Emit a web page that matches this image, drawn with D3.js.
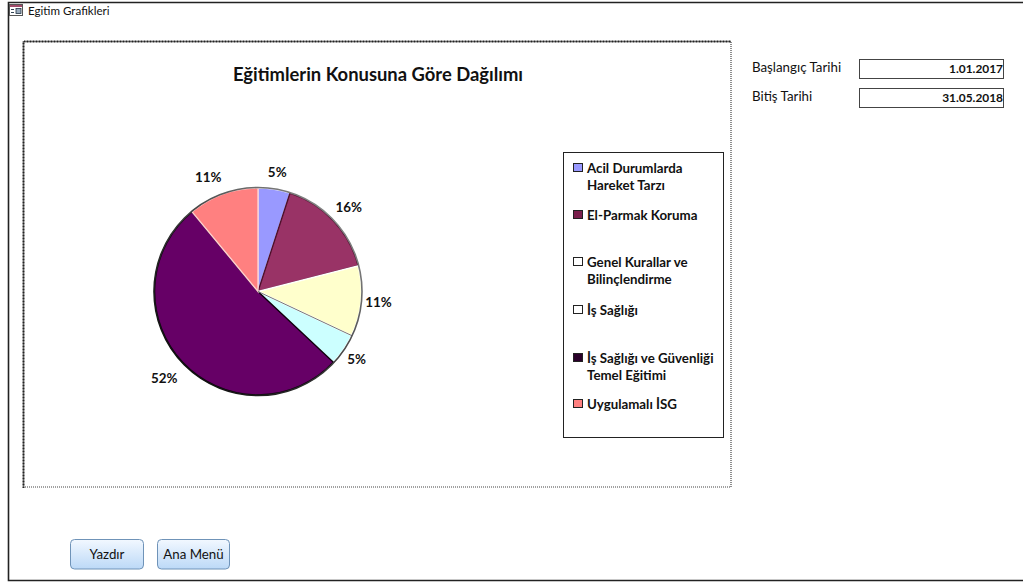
<!DOCTYPE html>
<html><head><meta charset="utf-8">
<script src="https://cdn.jsdelivr.net/npm/d3@7"></script>
<style>
html,body{margin:0;padding:0;background:#fff;overflow:hidden}
svg{display:block}
text{font-family:Lato,"Open Sans",sans-serif;fill:#111}
</style></head><body>
<svg id="c" width="1023" height="583"></svg>
<script>
const categories = ["Acil Durumlarda|Hareket Tarzı","El-Parmak Koruma","Genel Kurallar ve|Bilinçlendirme","İş Sağlığı","İş Sağlığı ve Güvenliği|Temel Eğitimi","Uygulamalı İSG"];
const shares = [5,16,11,5,52,11];
const colors = ["#9999ff","#993366","#ffffcc","#ccffff","#660066","#ff8080"];
const edgeColors = ["#e4e4ff","#4d0f2c","#ffffff","#ffffff","#0d000d","#ffd0d0"];
const swatchColors = ["#9999ff","#7a1f4c","#ffffff","#ffffff","#2a002a","#ff8080"];
const legendRowY = [168,215,262,310,358,404];
const formTitle = "Egitim Grafikleri";
const chartTitle = "Eğitimlerin Konusuna Göre Dağılımı";
const dateLabels = ["Başlangıç Tarihi","Bitiş Tarihi"];
const dateValues = ["1.01.2017","31.05.2018"];
const buttonLabels = ["Yazdır","Ana Menü"];

const svg = d3.select("#c");
const defs = svg.append("defs");

// Form window frame
svg.append("path").attr("d","M1023,2.5H8.5V580.5H1023").attr("fill","none").attr("stroke","#222").attr("stroke-width",1.6);
const icon = svg.append("g").attr("transform","translate(9,4)");
icon.append("rect").attr("x",.5).attr("y",.5).attr("width",13).attr("height",11).attr("fill","#fff").attr("stroke","#555");
icon.append("rect").attr("x",1).attr("y",1).attr("width",12).attr("height",2).attr("fill","#a04a6a");
icon.append("path").attr("d","M2,5.5h3M2,8.5h3").attr("stroke","#345").attr("stroke-width",1);
icon.append("rect").attr("x",7).attr("y",4.5).attr("width",5).attr("height",5).attr("fill","#9ab").attr("stroke","#234").attr("stroke-width",.8);
svg.append("text").attr("x",28).attr("y",15).attr("font-size",11.6).text(formTitle);

// Chart object frame, heavier on the top and left edges
svg.append("rect").attr("x",23.5).attr("y",41.5).attr("width",707.5).attr("height",445.5)
  .attr("fill","#fff").attr("stroke","#444").attr("stroke-width",1.2).attr("stroke-dasharray","1 1");
svg.append("path").attr("d","M23.5,488V41.5H731").attr("fill","none").attr("stroke","#222").attr("stroke-width",2).attr("stroke-dasharray","1 .5");

svg.append("text").attr("x",378).attr("y",81).attr("text-anchor","middle")
  .attr("font-size",18.4).attr("font-weight",700).text(chartTitle);

// Pie
const cx = 258, cy = 291.5, radius = 104;
const pie = d3.pie().sort(null).value(d => d);
const arcs = pie(shares);
const arc = d3.arc().innerRadius(0).outerRadius(radius - .6);
const labelArc = d3.arc().innerRadius(123).outerRadius(123);
const g = svg.append("g").attr("transform",`translate(${cx},${cy})`);
g.selectAll("path.slice").data(arcs).join("path").attr("class","slice")
  .attr("d",arc).attr("fill",(d,i)=>colors[i]).attr("stroke",(d,i)=>edgeColors[i]).attr("stroke-width",1.4);

// Grey seam between the two pale slices
const seamEnd = d3.pointRadial(arcs[2].endAngle, radius);
g.append("line").attr("x2",seamEnd[0]).attr("y2",seamEnd[1]).attr("stroke","#777").attr("stroke-width",1);

// Rim is darker toward the lower left, like a bevelled edge
const rim = defs.append("linearGradient").attr("id","rim").attr("x1",1).attr("y1",0).attr("x2",0).attr("y2",1);
rim.append("stop").attr("offset","0%").attr("stop-color","#a0a0a0");
rim.append("stop").attr("offset","55%").attr("stop-color","#333");
rim.append("stop").attr("offset","100%").attr("stop-color","#000");
g.append("circle").attr("r",radius).attr("fill","none").attr("stroke","url(#rim)").attr("stroke-width",1.6);

// Label placement offsets around the outer-radius centroid
const labelNudge = [[0,2],[1,0],[-2,-1],[-3,-1],[-4,2],[-8,1]];
g.selectAll("text.pct").data(arcs).join("text").attr("class","pct")
  .attr("transform",(d,i)=>{
    const [x,y] = labelArc.centroid(d);
    return `translate(${x+labelNudge[i][0]},${y+labelNudge[i][1]})`;
  })
  .attr("text-anchor","middle").attr("dy","0.36em")
  .attr("font-size",13.4).attr("font-weight",700).text(d=>d.data+"%");

// Legend
svg.append("rect").attr("x",563.5).attr("y",152.5).attr("width",160).attr("height",285)
  .attr("fill","#fff").attr("stroke","#222").attr("stroke-width",1);
const rows = svg.selectAll("g.row").data(categories).join("g").attr("class","row")
  .attr("transform",(d,i)=>`translate(574,${legendRowY[i]})`);
rows.append("rect").attr("x",-.5).attr("y",-4.5).attr("width",9).attr("height",8)
  .attr("fill",(d,i)=>swatchColors[i]).attr("stroke","#222").attr("stroke-width",1);
rows.each(function(d){
  d3.select(this).selectAll("text").data(d.split("|")).join("text")
    .attr("x",13).attr("y",(t,j)=>4.5+j*17.5).attr("font-size",13.3).attr("font-weight",700).text(t=>t);
});

// Date fields
const fieldY = [59,88];
dateLabels.forEach((t,i)=>{
  svg.append("text").attr("x",752).attr("y",fieldY[i]+13).attr("font-size",13.3).text(t);
  svg.append("rect").attr("x",859.5).attr("y",fieldY[i]+.5).attr("width",144).attr("height",19)
    .attr("fill","#fff").attr("stroke","#444").attr("stroke-width",1);
  svg.append("text").attr("x",1003).attr("y",fieldY[i]+14).attr("text-anchor","end")
    .attr("font-size",11.9).attr("font-weight",700).text(dateValues[i]);
});

// Buttons
const grad = defs.append("linearGradient").attr("id","btn").attr("x1",0).attr("y1",0).attr("x2",0).attr("y2",1);
grad.append("stop").attr("offset","0%").attr("stop-color","#f2f8ff");
grad.append("stop").attr("offset","100%").attr("stop-color","#bcd9f7");
const buttonX = [[70.5,73],[157.5,72]];
buttonLabels.forEach((t,i)=>{
  svg.append("rect").attr("x",buttonX[i][0]).attr("y",539.5).attr("width",buttonX[i][1]).attr("height",29.5).attr("rx",4)
    .attr("fill","url(#btn)").attr("stroke","#6f93b8").attr("stroke-width",1);
  svg.append("text").attr("x",buttonX[i][0]+buttonX[i][1]/2).attr("y",559).attr("text-anchor","middle").attr("font-size",13.3).text(t);
});
</script></body></html>
